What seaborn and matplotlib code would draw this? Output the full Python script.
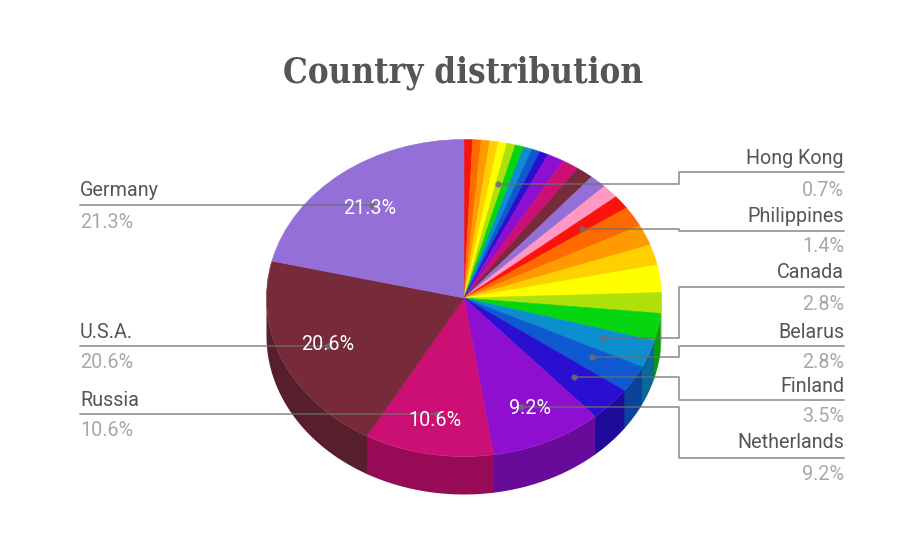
import numpy as np
import seaborn as sns
import matplotlib.pyplot as plt
from matplotlib.patches import Polygon

# share of each slice, clockwise from 12 o'clock
shares = [0.7, 0.7, 0.7, 0.7, 0.7, 0.7, 0.7, 0.7, 0.7, 0.7,
          1.4, 1.4, 1.4, 1.4, 1.4, 1.4,
          2.1, 2.1, 2.1, 2.8, 2.1, 2.8, 2.8, 2.8, 3.5,
          9.2, 10.6, 20.6, 21.3]
base_colors = ["#f9130a", "#ff6a00", "#ff9a00", "#ffd000", "#ffff00",
               "#aee00a", "#06d60f", "#0d8ecf", "#0f59d0", "#2a0fd0",
               "#8e0fd0", "#cc0f74", "#762a3a", "#946fd7", "#ff99c4"]

left_names = ["Germany", "U.S.A.", "Russia"]
left_pcts = ["21.3%", "20.6%", "10.6%"]
right_names = ["Hong Kong", "Philippines", "Canada", "Belarus", "Finland", "Netherlands"]
right_pcts = ["0.7%", "1.4%", "2.8%", "2.8%", "3.5%", "9.2%"]

W, H = 918, 539
CX, CY, RX, RY, DEPTH = 464, 298, 197.5, 158.5, 38

sns.set_theme(style="white")
plt.rcParams["font.family"] = ["Roboto", "DejaVu Sans"]

palette = sns.color_palette(base_colors)
colors = [palette[i % len(palette)] for i in range(len(shares))]

fig = plt.figure(figsize=(W / 100, H / 100), dpi=100)
ax = fig.add_axes([0, 0, 1, 1])
wedges, _ = ax.pie(shares, colors=colors, startangle=90, counterclock=False,
                   wedgeprops={"linewidth": 0.4})
# hide the seams between slices
for wedge, col in zip(wedges, colors):
    wedge.set_edgecolor(col)
ax.set_aspect("auto")
ax.set_xlim(-CX / RX, (W - CX) / RX)
ax.set_ylim((CY - H) / RY, CY / RY)

# side wall of the disc, only the front half shows
edges = np.cumsum([0] + shares) / sum(shares) * 360
for i, col in enumerate(colors):
    a0, a1 = max(edges[i], 90), min(edges[i + 1], 270)
    if a1 <= a0:
        continue
    # run a little past the edge so no seam shows between neighbours
    th = np.radians(np.linspace(a0, min(a1 + 0.3, 270), 60))
    x, y = np.sin(th), np.cos(th)
    d = DEPTH / RY
    pts = np.r_[np.c_[x, y], np.c_[x, y - d][::-1]]
    dark = tuple(c * 0.74 for c in col)
    ax.add_patch(Polygon(pts, closed=True, fc=dark, lw=0, zorder=0.5))

# overlay in pixel units for leader lines and text
ov = fig.add_axes([0, 0, 1, 1])
ov.set_xlim(0, W)
ov.set_ylim(H, 0)
ov.axis("off")
ov.patch.set_alpha(0)

line_col = "#6e6e6e"
fs = 14.2
left_lines = [(372, 205), (328, 346), (437, 414)]
left_y = [(190, 222), (332, 363), (400, 431)]
for (x, y), (y1, y2), name, pct in zip(left_lines, left_y, left_names, left_pcts):
    ov.plot([80, x], [y, y], color=line_col, alpha=0.7, lw=1.3, zorder=2)
    ov.plot(x, y, "o", color=line_col, alpha=0.85, ms=4.5, mew=0, zorder=2)
    ov.text(80, y1, name, color="#555555", fontsize=fs, ha="left", va="center")
    ov.text(80, y2, pct, color="#a8a8a8", fontsize=fs, ha="left", va="center")

right_lines = [(498, 184, 172), (582, 229, 231), (603, 338, 287),
               (592, 357, 346), (574, 377, 400), (521, 407, 458)]
right_y = [(158, 190), (216, 246), (272, 304), (332, 363), (386, 417), (442, 474)]
for (x, y, y_end), (y1, y2), name, pct in zip(right_lines, right_y, right_names, right_pcts):
    ov.plot([x, 679, 679, 844], [y, y, y_end, y_end], color=line_col, alpha=0.7, lw=1.3, zorder=2)
    ov.plot(x, y, "o", color=line_col, alpha=0.85, ms=4.5, mew=0, zorder=2)
    ov.text(844, y1, name, color="#555555", fontsize=fs, ha="right", va="center")
    ov.text(844, y2, pct, color="#a8a8a8", fontsize=fs, ha="right", va="center")

# percent labels sitting on the big slices
inside_pos = [(370, 208), (328, 345), (435, 421), (530, 409)]
inside_txt = ["21.3%", "20.6%", "10.6%", "9.2%"]
for (x, y), t in zip(inside_pos, inside_txt):
    ov.text(x, y, t, color="white", fontsize=fs, ha="center", va="center", zorder=3)

ov.text(463, 73, "Country distribution", color="#555555", fontsize=25,
        family="DejaVu Serif", stretch="condensed", fontweight="bold",
        ha="center", va="center")

fig.savefig("out.png", dpi=100)
